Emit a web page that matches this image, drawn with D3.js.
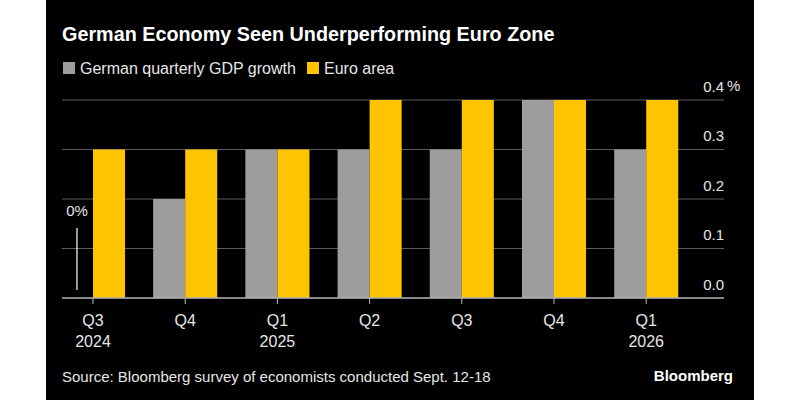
<!DOCTYPE html>
<html><head><meta charset="utf-8">
<script src="https://cdn.jsdelivr.net/npm/d3@7"></script>
<style>body{margin:0;background:#fff}svg{display:block}text{font-family:"Liberation Sans",Arial,sans-serif}</style>
</head><body><svg id="c" width="800" height="400"></svg>
<script>
const categories = ["Q3|2024","Q4","Q1|2025","Q2","Q3","Q4","Q1|2026"];
const seriesNames = ["German quarterly GDP growth","Euro area"];
const german = [0.0,0.2,0.3,0.3,0.3,0.4,0.3];
const euro = [0.3,0.3,0.3,0.4,0.4,0.4,0.4];
const yTicks = [0,0.1,0.2,0.3,0.4];
const colors = ["#9d9d9d","#ffc400"];

const svg = d3.select("#c");
svg.append("rect").attr("x",46).attr("y",0).attr("width",708).attr("height",400).attr("fill","#000");

svg.append("text").attr("x",62).attr("y",41).attr("fill","#fff").attr("font-weight","bold").attr("font-size",19.8).text("German Economy Seen Underperforming Euro Zone");

// legend
const legX = [63,307];
seriesNames.forEach((n,i)=>{
  svg.append("rect").attr("x",legX[i]).attr("y",62).attr("width",12).attr("height",12).attr("fill",colors[i]);
  svg.append("text").attr("x",legX[i]+17).attr("y",74).attr("fill","#e6e6e6").attr("font-size",16).text(n);
});

const idx = categories.map((c,i)=>i);
const x0 = d3.scaleBand().domain(idx).range([46.9,692.3]).paddingInner(0.305).paddingOuter(0.1525);
const x1 = d3.scaleBand().domain([0,1]).range([0,x0.bandwidth()]);
const y = d3.scaleLinear().domain([0,0.4]).range([298,100]);

// grid
svg.append("g").selectAll("line").data(yTicks.slice(1)).join("line")
  .attr("x1",62).attr("x2",724).attr("y1",d=>y(d)).attr("y2",d=>y(d))
  .attr("stroke","#5c5c5c").attr("stroke-width",1);

// y labels
const yAxis = d3.axisRight(y).tickValues(yTicks).tickSize(0).tickFormat(d3.format(".1f"));
const ya = svg.append("g").attr("transform","translate(724,-9)").call(yAxis);
ya.select(".domain").remove();
ya.selectAll("text").attr("x",0).attr("text-anchor","end").attr("fill","#e6e6e6").attr("font-size",15).attr("dy","0").attr("font-family","Liberation Sans, Arial, sans-serif");
svg.append("text").attr("x",727).attr("y",y(0.4)-9).attr("fill","#e6e6e6").attr("font-size",15).text("%");

// bars
const data = idx.map(i=>({i,v:[german[i],euro[i]]}));
const g = svg.append("g").selectAll("g").data(data).join("g").attr("transform",d=>`translate(${x0(d.i)},0)`);
g.selectAll("rect").data(d=>d.v.map((v,k)=>({v,k}))).join("rect")
  .attr("x",d=>x1(d.k)).attr("width",x1.bandwidth()).attr("y",d=>y(d.v)).attr("height",d=>y(0)-y(d.v))
  .attr("fill",d=>colors[d.k]);

// baseline
svg.append("line").attr("x1",62).attr("x2",724).attr("y1",y(0)).attr("y2",y(0)).attr("stroke","#b5b5b5").attr("stroke-width",1.5);

// x axis
const xAxis = d3.axisBottom(x0).tickSize(6).tickFormat("");
const xa = svg.append("g").attr("transform",`translate(0,${y(0)})`).call(xAxis);
xa.select(".domain").remove();
xa.selectAll("line").attr("stroke","#b5b5b5");
categories.forEach((c,i)=>{
  const parts=c.split("|");
  const cx = x0(i)+x0.bandwidth()/2;
  parts.forEach((p,j)=>{
    svg.append("text").attr("x",cx).attr("y",326+j*21).attr("text-anchor","middle").attr("fill","#e6e6e6").attr("font-size",16).text(p);
  });
});

// zero annotation for German Q3 2024
const zx = x0(0) + x1(0) + x1.bandwidth()/2;
svg.append("text").attr("x",zx).attr("y",216).attr("text-anchor","middle").attr("fill","#e6e6e6").attr("font-size",15).text("0%");
svg.append("line").attr("x1",zx).attr("x2",zx).attr("y1",228).attr("y2",290).attr("stroke","#fff").attr("stroke-width",1.2);

svg.append("text").attr("x",62).attr("y",382).attr("fill","#e6e6e6").attr("font-size",15).text("Source: Bloomberg survey of economists conducted Sept. 12-18");
svg.append("text").attr("x",733).attr("y",381).attr("text-anchor","end").attr("fill","#fff").attr("font-weight","bold").attr("font-size",15).text("Bloomberg");
</script></body></html>
